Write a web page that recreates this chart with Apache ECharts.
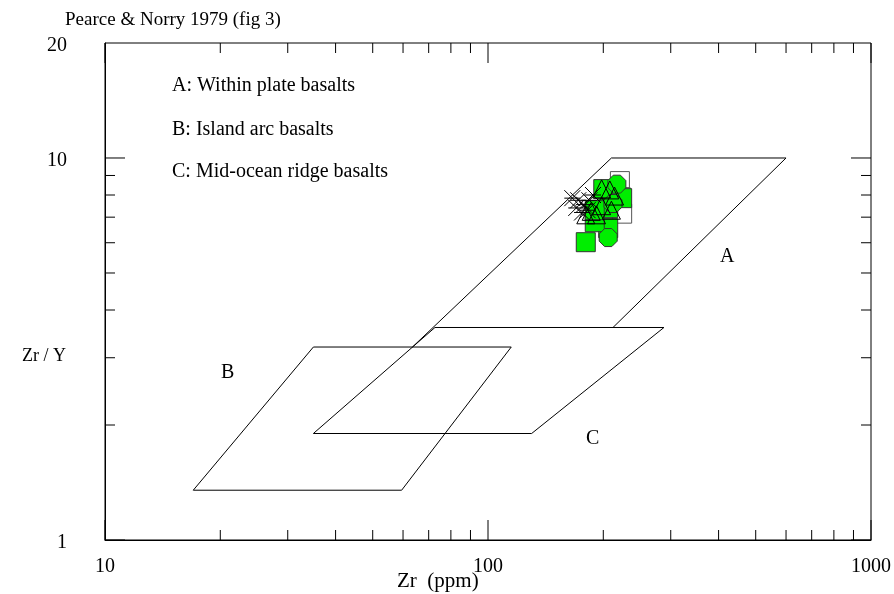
<!DOCTYPE html>
<html>
<head>
<meta charset="utf-8">
<script src="https://cdn.jsdelivr.net/npm/echarts@6/dist/echarts.min.js"></script>
<style>html,body{margin:0;padding:0;background:#fff;}#c{width:894px;height:594px;}</style>
</head>
<body>
<div id="c"></div>
<script>
// Field boundaries (Zr ppm, Zr/Y)
const fieldA = [[63.5, 3.2], [210, 10], [600, 10], [212, 3.6]];
const fieldB = [[35, 3.2], [115, 3.2], [59.5, 1.35], [17, 1.35], [35, 3.2]];
const fieldC = [[35, 1.9], [130, 1.9], [288, 3.6], [72.7, 3.6], [35, 1.9]];

// Samples
const whiteSquares = [[221, 8.7], [224, 7.15], [222, 7.9]];
const greenSquares = [[180, 6.02], [206, 6.55], [200, 8.29], [206, 7.39], [224, 7.85], [190, 6.79], [190, 7.3]];
const greenOctagons = [[206, 6.19], [217, 8.54], [212, 7.6]];
const triangles = [[198, 8.3], [208, 8.25], [214, 7.95], [186, 7.25], [198, 7.5], [192, 7.1], [210, 7.3], [180, 7.1]];
const crosses = [[166, 7.85], [172, 7.75], [178, 7.55], [184, 7.75], [176, 7.2], [182, 7.3], [188, 8.0], [170, 7.4]];

// Axis ticks
const xMajorTicks = [10, 100, 1000];
const xMinorTicks = [20, 30, 40, 50, 60, 70, 80, 90, 200, 300, 400, 500, 600, 700, 800, 900];
const yMajorTicks = [1, 10];
const yMinorTicks = [2, 3, 4, 5, 6, 7, 8, 9];
const yLabelValues = [1, 10, 20];

const FONT = '"Liberation Serif", "Times New Roman", serif';
const chart = echarts.init(document.getElementById('c'));

function xTickRenderer(len) {
  return function (params, api) {
    const v = api.value(0);
    const b = api.coord([v, 1]);
    const t = api.coord([v, 20]);
    const st = {stroke: '#000', lineWidth: 1};
    return {type: 'group', children: [
      {type: 'line', shape: {x1: b[0], y1: b[1], x2: b[0], y2: b[1] - len}, style: st},
      {type: 'line', shape: {x1: t[0], y1: t[1], x2: t[0], y2: t[1] + len}, style: st}
    ]};
  };
}
function yTickRenderer(len) {
  return function (params, api) {
    const v = api.value(1);
    const l = api.coord([10, v]);
    const r = api.coord([1000, v]);
    const st = {stroke: '#000', lineWidth: 1};
    return {type: 'group', children: [
      {type: 'line', shape: {x1: l[0], y1: l[1], x2: l[0] + len, y2: l[1]}, style: st},
      {type: 'line', shape: {x1: r[0], y1: r[1], x2: r[0] - len, y2: r[1]}, style: st}
    ]};
  };
}
function fieldSeries(data) {
  return {type: 'line', data: data, symbol: 'none', silent: true,
    lineStyle: {color: '#000', width: 1}, z: 2, animation: false};
}
function scatter(data, symbol, size, fill, stroke, z) {
  return {type: 'scatter', data: data, symbol: symbol, symbolSize: size, z: z,
    itemStyle: {color: fill, borderColor: stroke, borderWidth: 1, opacity: 1}, animation: false};
}

const option = {
  animation: false,
  grid: {left: 105, right: 23, top: 43, bottom: 54, outerBoundsMode: 'none', containLabel: false,
    show: true, borderColor: '#000', borderWidth: 1, backgroundColor: 'transparent'},
  xAxis: {
    type: 'log', logBase: 10, min: 10, max: 1000,
    axisLine: {show: true, lineStyle: {color: '#000'}},
    axisTick: {show: false}, splitLine: {show: false}, minorTick: {show: false},
    axisLabel: {color: '#000', fontFamily: FONT, fontSize: 20, margin: 17, formatter: v => String(v)}
  },
  yAxis: {
    type: 'log', logBase: 10, min: 1, max: 20,
    axisLine: {show: true, lineStyle: {color: '#000'}},
    axisTick: {show: false}, splitLine: {show: false}, minorTick: {show: false},
    axisLabel: {color: '#000', fontFamily: FONT, fontSize: 20, margin: 38,
      customValues: yLabelValues, showMaxLabel: true,
      formatter: v => '{v|' + v + '}',
      rich: {v: {color: '#000', fontFamily: FONT, fontSize: 20, padding: [6, 0, 0, 0]}}}
  },
  graphic: [
    {type: 'text', left: 65, top: 11, style: {text: 'Pearce & Norry 1979 (fig 3)', font: '19px ' + FONT, fill: '#000'}},
    {type: 'text', left: 172, top: 76, style: {text: 'A: Within plate basalts', font: '20px ' + FONT, fill: '#000'}},
    {type: 'text', left: 172, top: 120, style: {text: 'B: Island arc basalts', font: '20px ' + FONT, fill: '#000'}},
    {type: 'text', left: 172, top: 162, style: {text: 'C: Mid-ocean ridge basalts', font: '20px ' + FONT, fill: '#000'}},
    {type: 'text', left: 22, top: 347, style: {text: 'Zr / Y', font: '18px ' + FONT, fill: '#000'}},
    {type: 'text', left: 397, top: 571, style: {text: 'Zr  (ppm)', font: '21px ' + FONT, fill: '#000'}},
    {type: 'text', left: 720, top: 247, style: {text: 'A', font: '20px ' + FONT, fill: '#000'}},
    {type: 'text', left: 221, top: 363, style: {text: 'B', font: '20px ' + FONT, fill: '#000'}},
    {type: 'text', left: 586, top: 429, style: {text: 'C', font: '20px ' + FONT, fill: '#000'}}
  ],
  series: [
    {type: 'custom', renderItem: xTickRenderer(20), data: xMajorTicks.map(v => [v, 1]), silent: true, z: 1},
    {type: 'custom', renderItem: xTickRenderer(10), data: xMinorTicks.map(v => [v, 1]), silent: true, z: 1},
    {type: 'custom', renderItem: yTickRenderer(20), data: yMajorTicks.map(v => [10, v]), silent: true, z: 1},
    {type: 'custom', renderItem: yTickRenderer(10), data: yMinorTicks.map(v => [10, v]), silent: true, z: 1},
    fieldSeries(fieldA),
    fieldSeries(fieldB),
    fieldSeries(fieldC),
    scatter(whiteSquares, 'rect', 19, '#ffffff', '#555', 3),
    scatter(greenSquares, 'rect', 19, '#00ee00', '#333', 4),
    scatter(greenOctagons, 'path://M3,0 L7,0 L10,3 L10,7 L7,10 L3,10 L0,7 L0,3 Z', 18, '#00ee00', '#333', 5),
    scatter(triangles, 'triangle', 18, 'rgba(0,0,0,0)', '#000', 6),
    scatter(crosses, 'path://M0,0 L10,10 M10,0 L0,10 M0,5 L10,5', 16, 'none', '#000', 7)
  ]
};
chart.setOption(option);
</script>
</body>
</html>
